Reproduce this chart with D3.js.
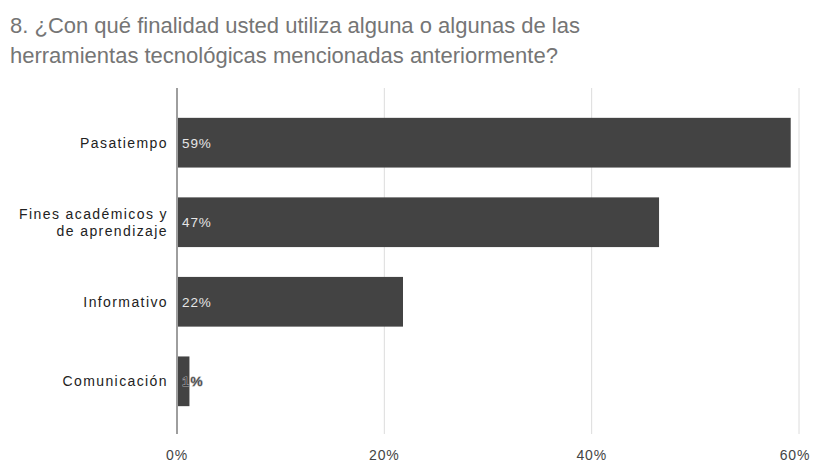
<!DOCTYPE html>
<html><head><meta charset="utf-8">
<script src="https://cdn.jsdelivr.net/npm/d3@7"></script>
<style>body{margin:0;background:#fff}svg{display:block}</style>
</head><body>
<script>
const titleLines = ["8. ¿Con qué finalidad usted utiliza alguna o algunas de las", "herramientas tecnológicas mencionadas anteriormente?"];
const categories = [["Pasatiempo"], ["Fines académicos y", "de aprendizaje"], ["Informativo"], ["Comunicación"]];
const values = [0.592, 0.465, 0.218, 0.012];
const valueLabels = ["59%", "47%", "22%", "1%"];
const ticks = [0, 0.2, 0.4, 0.6];
const tickLabels = ["0%", "20%", "40%", "60%"];

const W = 813, H = 462;
const svg = d3.select("body").append("svg").attr("width", W).attr("height", H);
const font = "'Liberation Sans', Arial, sans-serif";

svg.selectAll("text.title").data(titleLines).join("text")
  .attr("x", 10).attr("y", (d, i) => 33 + i * 30)
  .attr("font-family", font).attr("font-size", 22).attr("fill", "#757575")
  .text(d => d);

const x = d3.scaleLinear().domain([0, 0.6]).range([177, 799]);
const y = d3.scaleBand().domain(d3.range(categories.length)).range([90, 434]).paddingInner(0.375).paddingOuter(0.35);

// gridlines
svg.selectAll("line.grid").data(ticks.slice(1)).join("line")
  .attr("x1", d => x(d)).attr("x2", d => x(d)).attr("y1", 88).attr("y2", 434)
  .attr("stroke", "#dcdcdc").attr("stroke-width", 1);

// bars
svg.selectAll("rect.bar").data(values).join("rect")
  .attr("x", x(0)).attr("y", (d, i) => y(i))
  .attr("width", d => x(d) - x(0)).attr("height", y.bandwidth())
  .attr("fill", "#434343");

// zero axis
svg.append("line").attr("x1", x(0)).attr("x2", x(0)).attr("y1", 88).attr("y2", 434)
  .attr("stroke", "#9e9e9e").attr("stroke-width", 2);

// value labels
svg.selectAll("text.val").data(valueLabels).join("text")
  .attr("x", x(0) + 5).attr("y", (d, i) => y(i) + y.bandwidth() / 2 + 5)
  .attr("font-family", font).attr("font-size", 13.5).attr("letter-spacing", 0.9)
  .attr("fill", (d, i) => values[i] < 0.05 ? "#3a3a3a" : "#e6e6e6")
  .attr("stroke", (d, i) => values[i] < 0.05 ? "#a8a8a8" : "none")
  .attr("stroke-width", 1.2).attr("paint-order", "stroke")
  .text(d => d);

// category labels
const cat = svg.selectAll("text.cat").data(categories).join("text")
  .attr("text-anchor", "end").attr("font-family", font).attr("font-size", 14)
  .attr("letter-spacing", 1.4).attr("fill", "#222");
cat.each(function(lines, i) {
  const t = d3.select(this);
  const cy = y(i) + y.bandwidth() / 2;
  lines.forEach((l, j) => {
    t.append("tspan").attr("x", 168)
      .attr("y", cy + 5 + (j - (lines.length - 1) / 2) * 17).text(l);
  });
});

// x axis tick labels
svg.selectAll("text.tick").data(ticks).join("text")
  .attr("x", d => Math.min(x(d), 795)).attr("y", 460).attr("text-anchor", "middle")
  .attr("font-family", font).attr("font-size", 14).attr("letter-spacing", 0.8).attr("fill", "#444")
  .text((d, i) => tickLabels[i]);
</script>
</body></html>
